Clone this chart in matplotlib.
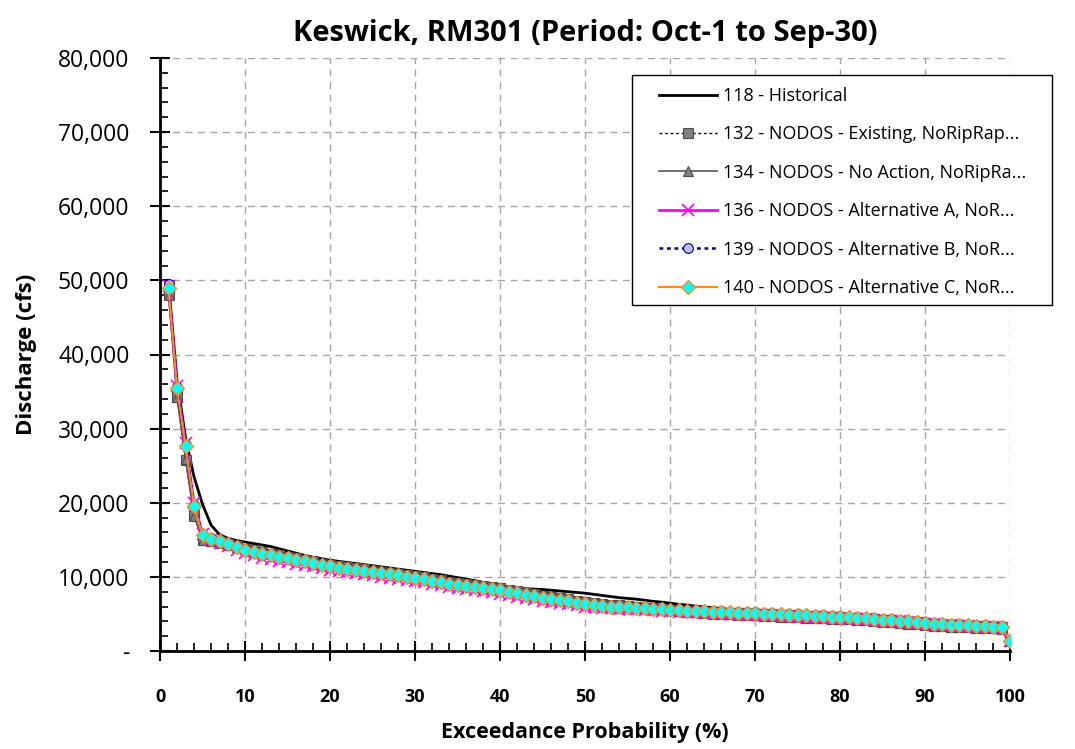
import matplotlib
matplotlib.use("Agg")
import matplotlib.pyplot as plt
from matplotlib.ticker import MultipleLocator, FuncFormatter
from matplotlib.patches import Rectangle

x = list(range(1, 101))

hist_118 = [49600, 36500, 28800, 23500, 19800, 17000, 15700, 15200, 14900, 14700,
            14500, 14300, 14100, 13800, 13500, 13200, 12900, 12650, 12450, 12250,
            12100, 11950, 11800, 11650, 11500, 11350, 11200, 11050, 10900, 10750,
            10600, 10450, 10300, 10100, 9900, 9700, 9500, 9250, 9000, 8750,
            8600, 8500, 8400, 8350, 8300, 8200, 8100, 8000, 7900, 7800,
            7650, 7500, 7350, 7200, 7100, 7000, 6850, 6700, 6600, 6450,
            6300, 6200, 6050, 5950, 5850, 5700, 5600, 5450, 5300, 5150,
            5050, 4950, 4850, 4750, 4650, 4550, 4450, 4350, 4250, 4150,
            4050, 3950, 3900, 3850, 3800, 3700, 3650, 3600, 3550, 3500,
            3450, 3400, 3350, 3300, 3250, 3200, 3150, 3100, 3000, 1500]

existing_132 = [48200, 34300, 25800, 18300, 15000, 14900, 14700, 14400, 14100, 13800,
                13600, 13300, 13100, 12900, 12700, 12500, 12300, 12100, 11800, 11600,
                11450, 11300, 11150, 11000, 10850, 10700, 10550, 10400, 10250, 10100,
                9950, 9750, 9550, 9350, 9200, 9050, 8900, 8750, 8600, 8450,
                8250, 8050, 7850, 7650, 7450, 7250, 7100, 6950, 6750, 6600,
                6450, 6350, 6250, 6150, 6050, 5950, 5850, 5750, 5650, 5550,
                5400, 5300, 5200, 5150, 5100, 5000, 4950, 4900, 4850, 4800,
                4750, 4700, 4650, 4600, 4550, 4500, 4450, 4400, 4350, 4300,
                4250, 4200, 4150, 4050, 3950, 3900, 3800, 3700, 3600, 3500,
                3400, 3350, 3300, 3250, 3200, 3150, 3100, 3050, 3000, 1300]

noaction_134 = [48000, 34200, 25900, 18200, 15000, 14800, 14600, 14300, 14000, 13700,
                13500, 13300, 13100, 12900, 12700, 12500, 12300, 12050, 11800, 11600,
                11450, 11300, 11150, 11000, 10850, 10700, 10550, 10400, 10250, 10100,
                9900, 9700, 9500, 9300, 9150, 9000, 8850, 8700, 8550, 8400,
                8200, 8000, 7800, 7600, 7400, 7200, 7050, 6900, 6700, 6550,
                6400, 6300, 6200, 6100, 6000, 5900, 5800, 5700, 5600, 5500,
                5400, 5300, 5200, 5100, 5050, 5000, 4950, 4900, 4850, 4800,
                4750, 4700, 4650, 4600, 4550, 4500, 4450, 4400, 4350, 4300,
                4250, 4200, 4150, 4050, 3950, 3900, 3800, 3700, 3600, 3500,
                3400, 3350, 3300, 3250, 3200, 3150, 3100, 3050, 3000, 1300]

altA_136 = [49300, 35800, 28000, 20000, 15800, 15000, 14600, 14100, 13600, 13200,
            12900, 12600, 12400, 12200, 12000, 11800, 11600, 11400, 11150, 10950,
            10800, 10650, 10500, 10350, 10200, 10050, 9900, 9750, 9600, 9450,
            9250, 9050, 8850, 8650, 8500, 8350, 8200, 8050, 7900, 7750,
            7550, 7350, 7150, 6950, 6750, 6600, 6450, 6300, 6150, 6000,
            5900, 5800, 5750, 5700, 5650, 5600, 5550, 5500, 5400, 5350,
            5300, 5250, 5200, 5150, 5100, 5050, 5000, 4950, 4900, 4900,
            4850, 4800, 4750, 4700, 4650, 4600, 4550, 4500, 4450, 4400,
            4350, 4300, 4250, 4200, 4100, 4050, 4000, 3900, 3800, 3700,
            3600, 3500, 3450, 3400, 3350, 3300, 3250, 3200, 3150, 1350]

altB_139 = [49500, 35600, 27800, 19700, 15700, 15200, 14900, 14500, 14100, 13700,
            13500, 13200, 13000, 12800, 12600, 12400, 12200, 12000, 11700, 11500,
            11350, 11200, 11050, 10900, 10750, 10600, 10450, 10300, 10150, 10000,
            9800, 9600, 9400, 9200, 9050, 8900, 8750, 8600, 8450, 8300,
            8100, 7900, 7700, 7500, 7300, 7100, 6950, 6800, 6600, 6400,
            6300, 6200, 6100, 6050, 6000, 5950, 5900, 5800, 5700, 5650,
            5600, 5550, 5500, 5450, 5400, 5350, 5300, 5250, 5200, 5200,
            5150, 5100, 5050, 5000, 4950, 4900, 4850, 4800, 4750, 4700,
            4650, 4600, 4500, 4400, 4300, 4250, 4200, 4100, 4000, 3900,
            3800, 3700, 3650, 3600, 3550, 3500, 3450, 3400, 3350, 1450]

altC_140 = [49000, 35500, 27700, 19600, 15600, 15100, 14800, 14400, 14000, 13600,
            13400, 13100, 12900, 12700, 12500, 12300, 12100, 11900, 11600, 11400,
            11250, 11100, 10950, 10800, 10650, 10500, 10350, 10200, 10050, 9900,
            9700, 9500, 9300, 9100, 8950, 8800, 8650, 8500, 8350, 8200,
            8000, 7800, 7600, 7400, 7200, 7000, 6850, 6700, 6500, 6300,
            6200, 6100, 6000, 5950, 5900, 5850, 5800, 5700, 5600, 5550,
            5500, 5450, 5400, 5350, 5300, 5250, 5200, 5150, 5100, 5100,
            5050, 5000, 4950, 4900, 4850, 4800, 4750, 4700, 4650, 4600,
            4550, 4500, 4400, 4300, 4200, 4150, 4100, 4000, 3900, 3800,
            3700, 3600, 3550, 3500, 3450, 3400, 3350, 3300, 3250, 1400]

labels = ["118 - Historical",
          "132 - NODOS - Existing, NoRipRap...",
          "134 - NODOS - No Action, NoRipRa...",
          "136 - NODOS - Alternative A, NoR...",
          "139 - NODOS - Alternative B, NoR...",
          "140 - NODOS - Alternative C, NoR..."]

title = "Keswick, RM301 (Period: Oct-1 to Sep-30)"
xlabel = "Exceedance Probability (%)"
ylabel = "Discharge (cfs)"

plt.rcParams['font.family'] = ['Open Sans', 'DejaVu Sans']

W, H = 1075, 749
fig = plt.figure(figsize=(W/100, H/100), dpi=100)
ax = fig.add_axes([160/W, 1-651/H, 850/W, 593/H])

ax.plot(x, hist_118, color='black', lw=2.0, label=labels[0], zorder=3)
ax.plot(x, existing_132, color='black', lw=1.0, ls=(0, (2, 2)), marker='s', ms=7.5,
        mfc='#7f7f7f', mec='#4d4d4d', mew=0.8, label=labels[1], zorder=4)
ax.plot(x, noaction_134, color='#555555', lw=1.2, marker='^', ms=7.5,
        mfc='#7f7f7f', mec='#4d4d4d', mew=0.8, label=labels[2], zorder=5)
ax.plot(x, altA_136, color='#ff00ff', lw=2.0, marker='x', ms=8.5, mew=1.2,
        mec='#ff00ff', label=labels[3], zorder=6)
ax.plot(x, altB_139, color='#000080', lw=1.8, ls=(0, (1.5, 1.5)), marker='o', ms=7,
        mfc='#c0c0ff', mec='#000080', mew=0.8, label=labels[4], zorder=7)
ax.plot(x, altC_140, color='#ff8c1a', lw=1.5, marker='D', ms=7,
        mfc='#00ffff', mec='#ff8c1a', mew=1.0, label=labels[5], zorder=8)

ax.set_xlim(0, 100)
ax.set_ylim(0, 80000)
ax.xaxis.set_major_locator(MultipleLocator(10))
ax.xaxis.set_minor_locator(MultipleLocator(2))
ax.yaxis.set_major_locator(MultipleLocator(10000))
ax.yaxis.set_minor_locator(MultipleLocator(2000))
ax.yaxis.set_major_formatter(FuncFormatter(lambda v, p: '-' if v == 0 else f"{int(v):,}"))

for s in ['top', 'right']:
    ax.spines[s].set_visible(False)
for s in ['left', 'bottom']:
    ax.spines[s].set_linewidth(2.0)
    ax.spines[s].set_color('black')

ax.tick_params(which='major', direction='inout', length=14, width=1.5, color='black')
ax.tick_params(which='minor', direction='in', length=6, width=1.2, color='black')
ax.tick_params(axis='y', which='major', labelsize=16.5, pad=15)
ax.tick_params(axis='x', which='major', labelsize=13, pad=20)
for t in ax.get_xticklabels():
    t.set_fontweight('bold')

ax.grid(True, which='major', color='#a6a6a6', ls=(0, (5, 4)), lw=1.0)
ax.set_axisbelow(True)

ax.set_title(title, fontsize=21, fontweight='bold', pad=12)
ax.set_xlabel(xlabel, fontsize=15.5, fontweight='bold', labelpad=11)
ax.set_ylabel(ylabel, fontsize=16, fontweight='bold', labelpad=15)

# legend frame drawn in figure pixels, behind the legend entries
frame = Rectangle((632/W, 1-305/H), 420/W, 230/H, transform=fig.transFigure,
                  facecolor='white', edgecolor='black', lw=1.0, zorder=19,
                  clip_on=False)
ax.add_artist(frame)

leg = ax.legend(loc='upper left', bbox_to_anchor=(659/W, 1-87/H),
                bbox_transform=fig.transFigure, fontsize=13, frameon=False,
                handlelength=3.2, labelspacing=1.13, borderpad=0.0,
                handletextpad=0.33, borderaxespad=0)
leg.set_zorder(20)

fig.savefig("out.png", dpi=100)
